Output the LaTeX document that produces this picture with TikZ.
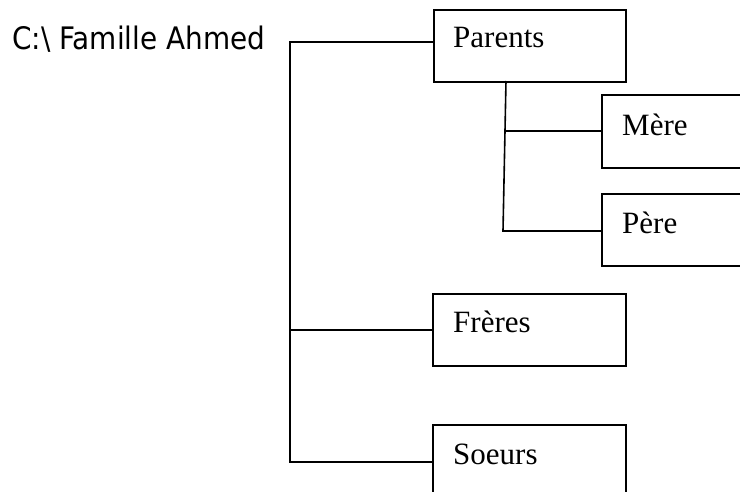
\documentclass[tikz,border=0pt]{standalone}
\usepackage{fontspec}
\setmainfont{Liberation Serif}
\newfontfamily\rootfont[FakeStretch=0.9]{DejaVu Sans}
\begin{document}
\begin{tikzpicture}[x=1pt,y=-1pt,
  box/.style={draw, line width=1.6pt, rectangle, anchor=north west, inner sep=0pt},
  lbl/.style={anchor=base west, inner sep=0pt, font=\fontsize{31}{36}\selectfont},
  rootlbl/.style={anchor=base west, inner sep=0pt, font=\rootfont\fontsize{31}{36}\selectfont},
  conn/.style={line width=1.6pt}]
\useasboundingbox (0,0) rectangle (740,492);
% boxes
\node[box, minimum width=192pt, minimum height=72pt] (parents) at (433,9) {};
\node[box, minimum width=200pt, minimum height=73pt] (mere) at (601,94) {};
\node[box, minimum width=200pt, minimum height=72pt] (pere) at (601,193) {};
\node[box, minimum width=193pt, minimum height=72pt] (freres) at (432,293) {};
\node[box, minimum width=193pt, minimum height=72pt] (soeurs) at (432,424) {};
% labels
\node[rootlbl] (root) at (12,50) {C:\textbackslash\ Famille Ahmed};
\node[lbl] (parentsT) at (453,48) {Parents};
\node[lbl] (mereT) at (622,136) {Mère};
\node[lbl] (pereT) at (622,234) {Père};
\node[lbl] (freresT) at (453,333) {Frères};
\node[lbl] (soeursT) at (453,464) {Soeurs};
% connectors
\coordinate (j0) at (290,42);
\coordinate (j1) at (290,462);
\coordinate (pa) at (506,81);
\coordinate (pb) at (503,231);
\draw[conn] (j0 -| parents.west) -- (j0) -- (j1) -- (j1 -| soeurs.west);
\draw[conn] (freres.west) -- (freres.west -| j0);
\draw[conn] (pa) -- (pb) -- (pb -| pere.west);
\draw[conn] (mere.west) -- (mere.west -| pa);
\end{tikzpicture}
\end{document}
